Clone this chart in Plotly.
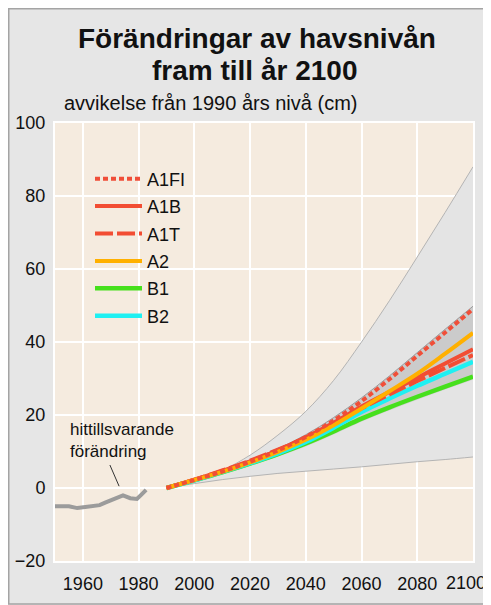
import plotly.graph_objects as go

# ---------------- data ----------------
years_proj = [1990, 2000, 2010, 2020, 2030, 2040, 2050, 2060, 2070, 2080, 2090, 2100]

envelope_upper = [0, 1.8, 4.8, 9.0, 14.5, 21.0, 29.5, 40.0, 51.3, 63.3, 75.5, 88.0]
envelope_lower = [0, 1.2, 2.3, 3.2, 4.0, 4.6, 5.2, 5.8, 6.5, 7.2, 7.8, 8.5]

band_upper = [0, 2.5, 4.9, 7.7, 10.8, 14.6, 19.3, 24.7, 30.7, 37.1, 43.5, 49.8]
band_lower = [0, 1.9, 4.0, 6.2, 8.7, 11.5, 14.8, 18.3, 21.4, 24.3, 27.1, 29.8]

scen_A1FI = [0, 2.2, 4.5, 7.2, 10.3, 14.0, 18.5, 23.8, 29.8, 36.2, 42.6, 49.0]
scen_A1B = [0, 2.3, 4.7, 7.3, 10.3, 13.9, 17.9, 22.3, 26.3, 30.2, 34.1, 38.0]
scen_A1T = [0, 2.3, 4.8, 7.5, 10.5, 13.8, 17.6, 21.8, 25.6, 29.3, 32.9, 36.4]
scen_A2 = [0, 2.2, 4.4, 7.0, 9.9, 13.2, 17.2, 21.8, 26.5, 31.3, 36.8, 42.5]
scen_B1 = [0, 2.1, 4.3, 6.7, 9.3, 12.2, 15.5, 19.0, 22.1, 25.0, 27.8, 30.5]
scen_B2 = [0, 2.1, 4.4, 6.8, 9.5, 12.6, 16.5, 20.8, 24.5, 28.0, 31.3, 34.6]

hist_years = [1950, 1955, 1958, 1960, 1963, 1966, 1968, 1970.5, 1972, 1974.4, 1977, 1979.4, 1981, 1982.7]
hist_values = [-5.0, -5.0, -5.5, -5.3, -5.2, -4.7, -4.0, -3.3, -2.8, -2.0, -2.8, -3.0, -1.8, -0.5]

x_ticks = [1960, 1980, 2000, 2020, 2040, 2060, 2080, 2100]
x_ticklabels = ["1960", "1980", "2000", "2020", "2040", "2060", "2080", ""]
last_x_label = "2100"
y_ticks = [-20, 0, 20, 40, 60, 80, 100]
y_ticklabels = ["\u221220", "0", "20", "40", "60", "80", "100"]

title_line1 = "Förändringar av havsnivån"
title_line2 = "fram till år 2100"
subtitle_text = "avvikelse från 1990 års nivå (cm)"
hist_label = "hittillsvarande<br>förändring"

# ---------------- layout geometry ----------------
# page has an 8px body margin; figure pixel = page pixel - 8
W, H = 483, 597
ML, MR, MT, MB = 47, 18, 115, 44
pw, ph = W - ML - MR, H - MT - MB
FONT = "Liberation Sans, Arial, sans-serif"


def px2x(p):
    return (p - ML) / pw


def py2y(p):
    return (H - MB - p) / ph


fig = go.Figure()

# light envelope
fig.add_trace(go.Scatter(x=years_proj, y=envelope_upper, mode="lines",
                         line=dict(color="#b4b4b4", width=1, shape="spline"),
                         showlegend=False, hoverinfo="skip"))
fig.add_trace(go.Scatter(x=years_proj, y=envelope_lower, mode="lines",
                         line=dict(color="#b4b4b4", width=1, shape="spline"),
                         fill="tonexty", fillcolor="#e4e4e4",
                         showlegend=False, hoverinfo="skip"))
# darker band
fig.add_trace(go.Scatter(x=years_proj, y=band_upper, mode="lines",
                         line=dict(color="#9a9a9a", width=1, shape="spline"),
                         showlegend=False, hoverinfo="skip"))
fig.add_trace(go.Scatter(x=years_proj, y=band_lower, mode="lines",
                         line=dict(color="#c4c4c4", width=0.5, shape="spline"),
                         fill="tonexty", fillcolor="#cbcbcb",
                         showlegend=False, hoverinfo="skip"))

# historical
fig.add_trace(go.Scatter(x=hist_years, y=hist_values, mode="lines",
                         line=dict(color="#9b9b9b", width=4),
                         showlegend=False, hoverinfo="skip"))

series = [
    ("B1", scen_B1, "#46e01c", "solid", 4.5),
    ("B2", scen_B2, "#1ef0f2", "solid", 4.5),
    ("A1T", scen_A1T, "#f24d33", "18px,4px", 4),
    ("A1B", scen_A1B, "#f24d33", "solid", 4),
    ("A2", scen_A2, "#ffb000", "solid", 4),
    ("A1FI", scen_A1FI, "#f04e38", "5px,3px", 4),
]
legend_rank = {"A1FI": 1, "A1B": 2, "A1T": 3, "A2": 4, "B1": 5, "B2": 6}
for name, vals, col, dash, w in series:
    fig.add_trace(go.Scatter(x=years_proj, y=vals, mode="lines", name=name,
                             line=dict(color=col, width=w, dash=dash, shape="spline"),
                             legendrank=legend_rank[name], legendgroup=name,
                             hoverinfo="skip"))

# historical annotation
fig.add_annotation(x=1954.7, y=13.0, xref="x", yref="y", text=hist_label,
                   showarrow=False, xanchor="left", yanchor="middle", align="left",
                   font=dict(family=FONT, size=17, color="#111"))
fig.add_shape(type="line", xref="x", yref="y", x0=1969.7, y0=6.3, x1=1973.0, y1=0.5,
              line=dict(color="#333", width=1))

# last x tick label, nudged left so it stays inside the page
fig.add_annotation(x=x_ticks[-1], xref="x", y=py2y(575), yref="paper",
                   text=last_x_label, showarrow=False,
                   xanchor="right", yanchor="middle", xshift=15,
                   font=dict(family=FONT, size=18, color="#111"))

# title and subtitle
fig.add_annotation(x=px2x(249), y=py2y(30.5), xref="paper", yref="paper",
                   text="<b>" + title_line1 + "</b>", showarrow=False,
                   xanchor="center", yanchor="middle",
                   font=dict(family=FONT, size=28, color="#111"))
fig.add_annotation(x=px2x(246), y=py2y(62.5), xref="paper", yref="paper",
                   text="<b>" + title_line2 + "</b>", showarrow=False,
                   xanchor="center", yanchor="middle",
                   font=dict(family=FONT, size=28, color="#111"))
fig.add_annotation(x=px2x(54), y=py2y(95), xref="paper", yref="paper",
                   text=subtitle_text, showarrow=False,
                   xanchor="left", yanchor="middle",
                   font=dict(family=FONT, size=20, color="#111"))

# outer frame border
fig.add_shape(type="rect", xref="paper", yref="paper", layer="below",
              x0=px2x(0.75), x1=px2x(W + 5), y0=py2y(596), y1=py2y(0.75),
              fillcolor="rgba(0,0,0,0)", line=dict(color="#a4a4a4", width=1.5))

fig.update_layout(
    width=W, height=H,
    margin=dict(l=ML, r=MR, t=MT, b=MB, pad=0, autoexpand=False),
    paper_bgcolor="#e6e6e6",
    plot_bgcolor="#f5ebdf",
    font=dict(family=FONT, size=18, color="#111"),
    showlegend=True,
    legend=dict(x=px2x(82), y=py2y(152.5), xanchor="left", yanchor="top",
                bgcolor="rgba(0,0,0,0)", borderwidth=0,
                font=dict(family=FONT, size=18, color="#111"),
                tracegroupgap=1, itemwidth=47),
    xaxis=dict(range=[1950, 2100], tickvals=x_ticks, ticktext=x_ticklabels,
               showgrid=True, gridcolor="white", gridwidth=1.5, zeroline=False,
               showline=True, linecolor="white", linewidth=2, mirror=True,
               ticks="", tickfont=dict(family=FONT, size=18, color="#111"),
               ticklabelstandoff=5, ticklabeloverflow="allow",
               fixedrange=True, automargin=False),
    yaxis=dict(range=[-20, 100], tickvals=y_ticks, ticktext=y_ticklabels,
               showgrid=True, gridcolor="white", gridwidth=1.5, zeroline=False,
               showline=True, linecolor="white", linewidth=2, mirror=True,
               ticks="", tickfont=dict(family=FONT, size=18, color="#111"),
               ticklabelstandoff=4, ticklabeloverflow="allow",
               fixedrange=True, automargin=False),
)

fig.write_html("out.html")
